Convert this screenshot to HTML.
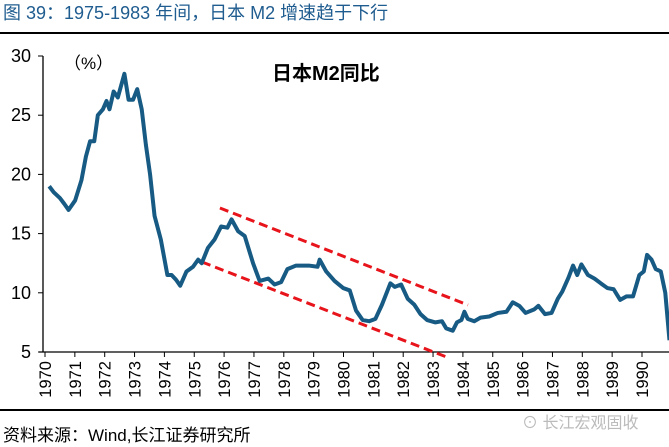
<!DOCTYPE html>
<html><head><meta charset="utf-8"><style>
body{margin:0;width:669px;height:447px;background:#fff;overflow:hidden;font-family:"Liberation Sans","Noto Sans CJK SC",sans-serif}
svg{position:absolute;left:0;top:0}
</style></head><body>
<svg width="669" height="447">
<text x="3" y="19" font-size="18" fill="#1f5c8f" font-family="Liberation Sans, Noto Sans CJK SC, sans-serif">图 39：1975-1983 年间，日本 M2 增速趋于下行</text>
<rect x="0" y="32" width="669" height="2" fill="#000"/>
<g id="axes"></g>
<g id="marks"></g>
<text x="64" y="69" font-size="17" fill="#000">（%）</text>
<text x="272" y="80" font-size="20" font-weight="bold" fill="#000" font-family="Liberation Sans, Noto Sans CJK SC, sans-serif">日本M2同比</text>
<rect x="0" y="409" width="669" height="2" fill="#000"/>
<text x="3" y="441" font-size="17" fill="#000" font-family="Liberation Sans, Noto Sans CJK SC, sans-serif">资料来源：Wind,长江证券研究所</text>
<text x="522" y="428" font-size="16" fill="#bbb" font-family="Liberation Sans, Noto Sans CJK SC, sans-serif">⊙ 长江宏观固收</text>
</svg>
<script>
const years=[1970.14,1970.29,1970.50,1970.65,1970.79,1971.01,1971.22,1971.37,1971.51,1971.65,1971.77,1971.94,1972.06,1972.16,1972.30,1972.44,1972.66,1972.80,1972.95,1973.09,1973.24,1973.38,1973.52,1973.67,1973.88,1974.10,1974.24,1974.39,1974.53,1974.74,1974.96,1975.13,1975.25,1975.46,1975.68,1975.90,1976.11,1976.25,1976.47,1976.69,1976.97,1977.19,1977.48,1977.69,1977.91,1978.12,1978.41,1978.84,1979.13,1979.20,1979.42,1979.70,1979.99,1980.21,1980.42,1980.64,1980.86,1981.07,1981.29,1981.57,1981.72,1981.93,1982.15,1982.37,1982.58,1982.80,1983.08,1983.30,1983.44,1983.66,1983.80,1983.95,1984.05,1984.16,1984.38,1984.59,1984.88,1985.17,1985.46,1985.67,1985.89,1986.10,1986.39,1986.53,1986.75,1986.97,1987.18,1987.33,1987.54,1987.69,1987.83,1987.97,1988.19,1988.41,1988.62,1988.84,1989.05,1989.27,1989.48,1989.70,1989.91,1990.06,1990.17,1990.32,1990.46,1990.63,1990.78,1990.92];
const m2=[19,18.5,18,17.5,17,17.8,19.5,21.5,22.8,22.8,25,25.5,26.2,25.5,27,26.5,28.5,26.3,26.3,27.2,25.5,22.5,20,16.5,14.5,11.5,11.5,11.1,10.6,11.8,12.2,12.8,12.5,13.8,14.5,15.6,15.5,16.2,15.2,14.8,12.5,11,11.2,10.7,10.9,12,12.3,12.3,12.2,12.8,11.8,11,10.4,10.2,8.5,7.7,7.6,7.8,9,10.8,10.5,10.7,9.5,9,8.2,7.7,7.5,7.6,7,6.8,7.5,7.7,8.4,7.8,7.6,7.9,8.0,8.3,8.4,9.2,8.9,8.3,8.6,8.9,8.2,8.3,9.5,10.1,11.3,12.3,11.5,12.4,11.5,11.2,10.8,10.4,10.3,9.4,9.7,9.7,11.5,11.8,13.2,12.8,12.0,11.8,10,6];
const trendUpper=[[1975.86,17.16],[1984.17,8.97]];
const trendLower=[[1975.26,12.6],[1983.53,4.5]];
const yTicks=[5,10,15,20,25,30];
const xTicks=[1970,1971,1972,1973,1974,1975,1976,1977,1978,1979,1980,1981,1982,1983,1984,1985,1986,1987,1988,1989,1990];
const NS="http://www.w3.org/2000/svg";
const X=y=>45+(y-1970)*29.85;
const Y=v=>352-(v-5)*11.84;
function mk(t,a,p){const e=document.createElementNS(NS,t);for(const k in a)e.setAttribute(k,a[k]);p.appendChild(e);return e;}
const ax=document.getElementById('axes'),mg=document.getElementById('marks');
const yl=mk('line',{x1:43,y1:Y(30),x2:43,y2:Y(5),stroke:'#000','stroke-width':1.3},ax);


const xl=mk('line',{x1:39,y1:Y(5),x2:669,y2:Y(5),stroke:'#000','stroke-width':1.3},ax);


yTicks.forEach(v=>{
 mk('line',{x1:38,y1:Y(v),x2:43,y2:Y(v),stroke:'#000'},ax);
 const t=mk('text',{x:31,y:Y(v)+6,'font-size':18,'text-anchor':'end'},ax);t.textContent=v;
 
 
});
xTicks.forEach(y=>{
 mk('line',{x1:X(y),y1:Y(5),x2:X(y),y2:Y(5)+5,stroke:'#000'},ax);
 const t=mk('text',{x:0,y:0,'font-size':16.5,'text-anchor':'end',transform:`translate(${X(y)+6},${Y(5)+9}) rotate(-90)`},ax);t.textContent=y;
 
 
});
[trendUpper,trendLower].forEach((tr,i)=>{
 const l=mk('line',{x1:X(tr[0][0]),y1:Y(tr[0][1]),x2:X(tr[1][0]),y2:Y(tr[1][1]),stroke:'#e8141b','stroke-width':3,'stroke-dasharray':'9,5'},mg);
 
 
});
const p=mk('polyline',{points:years.map((y,i)=>X(y)+','+Y(m2[i])).join(' '),fill:'none',stroke:'#175a83','stroke-width':4,'stroke-linejoin':'round'},mg);


</script>
</body></html>
